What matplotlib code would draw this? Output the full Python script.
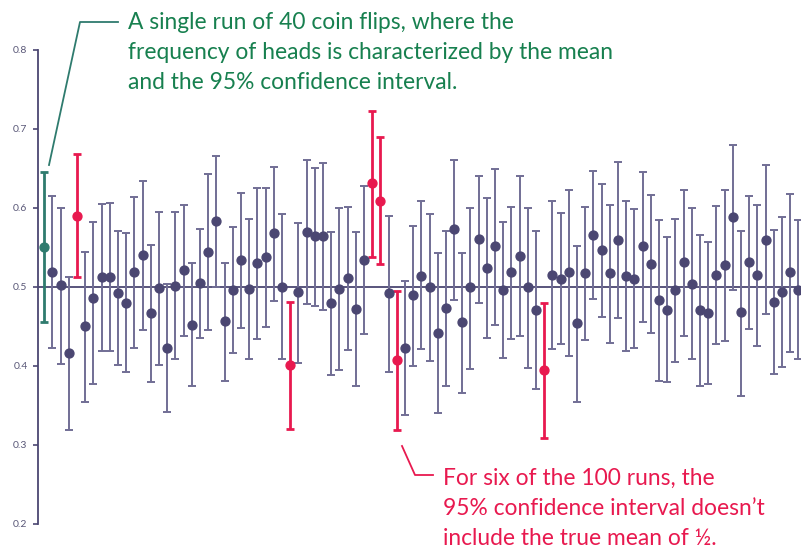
import numpy as np
import matplotlib as mpl
mpl.use('Agg')
import matplotlib.pyplot as plt
from matplotlib.lines import Line2D

# Mean and 95% CI bounds for each run of 40 coin flips
means = [0.550, 0.519, 0.502, 0.416, 0.590, 0.450, 0.486, 0.512, 0.512, 0.492,
         0.480, 0.519, 0.540, 0.467, 0.498, 0.423, 0.501, 0.521, 0.452, 0.505,
         0.544, 0.583, 0.456, 0.496, 0.534, 0.497, 0.530, 0.537, 0.568, 0.500,
         0.401, 0.493, 0.569, 0.564, 0.564, 0.480, 0.497, 0.511, 0.472, 0.534,
         0.631, 0.609, 0.492, 0.407, 0.423, 0.489, 0.514, 0.500, 0.442, 0.473,
         0.573, 0.455, 0.499, 0.560, 0.524, 0.551, 0.496, 0.518, 0.539, 0.500,
         0.470, 0.395, 0.515, 0.510, 0.518, 0.454, 0.517, 0.566, 0.546, 0.517,
         0.559, 0.514, 0.510, 0.551, 0.529, 0.483, 0.471, 0.496, 0.531, 0.503,
         0.471, 0.467, 0.515, 0.527, 0.588, 0.468, 0.531, 0.515, 0.559, 0.481,
         0.493, 0.518, 0.496]
upper = [0.645, 0.615, 0.600, 0.512, 0.668, 0.544, 0.582, 0.605, 0.606, 0.570,
         0.568, 0.613, 0.634, 0.553, 0.594, 0.504, 0.594, 0.604, 0.530, 0.573,
         0.643, 0.666, 0.530, 0.576, 0.619, 0.586, 0.625, 0.625, 0.652, 0.592,
         0.481, 0.581, 0.661, 0.650, 0.656, 0.569, 0.599, 0.601, 0.569, 0.627,
         0.723, 0.689, 0.589, 0.495, 0.507, 0.577, 0.608, 0.592, 0.543, 0.570,
         0.661, 0.543, 0.600, 0.640, 0.612, 0.649, 0.582, 0.601, 0.640, 0.600,
         0.571, 0.480, 0.609, 0.593, 0.622, 0.552, 0.601, 0.647, 0.630, 0.603,
         0.658, 0.609, 0.598, 0.645, 0.616, 0.584, 0.563, 0.586, 0.623, 0.599,
         0.566, 0.557, 0.602, 0.623, 0.679, 0.571, 0.615, 0.603, 0.654, 0.572,
         0.588, 0.617, 0.584]
lower = [0.455, 0.422, 0.402, 0.319, 0.512, 0.354, 0.377, 0.419, 0.419, 0.401,
         0.392, 0.422, 0.445, 0.380, 0.401, 0.341, 0.408, 0.437, 0.374, 0.435,
         0.445, 0.499, 0.381, 0.416, 0.448, 0.408, 0.434, 0.449, 0.482, 0.408,
         0.320, 0.404, 0.478, 0.476, 0.471, 0.388, 0.395, 0.420, 0.374, 0.440,
         0.538, 0.529, 0.392, 0.319, 0.337, 0.400, 0.421, 0.406, 0.340, 0.374,
         0.483, 0.366, 0.396, 0.479, 0.435, 0.451, 0.410, 0.434, 0.438, 0.397,
         0.370, 0.308, 0.421, 0.427, 0.412, 0.354, 0.432, 0.485, 0.462, 0.429,
         0.460, 0.418, 0.422, 0.455, 0.442, 0.381, 0.379, 0.405, 0.437, 0.408,
         0.374, 0.377, 0.427, 0.431, 0.496, 0.362, 0.446, 0.425, 0.465, 0.389,
         0.398, 0.417, 0.409]
highlight_run = 0
missed_runs = [4, 30, 40, 41, 43, 61]
true_mean = 0.5
y_ticks = [0.2, 0.3, 0.4, 0.5, 0.6, 0.7, 0.8]

PURPLE = '#4b4772'
BAR = '#716e95'
RED = '#e8194f'
TEAL = '#2f7b6e'
GREEN = '#17804f'

plt.rcParams['font.family'] = ['Lato', 'DejaVu Sans']

W, H = 801, 550
fig = plt.figure(figsize=(W / 100, H / 100), dpi=100)
ax = fig.add_axes([38 / W, 1 - 523.7 / H, 1 - 38 / W, 474 / H])

means = np.array(means)
upper = np.array(upper)
lower = np.array(lower)
x = np.arange(len(means))

ax.axhline(true_mean, color=PURPLE, lw=1.3, zorder=1)

for i in x:
    if i == highlight_run:
        c, bc, lw = TEAL, TEAL, 2.0
    elif i in missed_runs:
        c, bc, lw = RED, RED, 2.0
    else:
        c, bc, lw = PURPLE, BAR, 1.4
    ax.errorbar(i, means[i],
                yerr=[[means[i] - lower[i]], [upper[i] - means[i]]],
                fmt='o', color=c, mec=c, ecolor=bc, elinewidth=lw,
                capsize=3.2, capthick=lw, markersize=6.4, zorder=3)

ax.set_xlim((38 - 44.3) / 8.196, (W - 44.3) / 8.196)
ax.set_ylim(0.2, 0.8)
ax.set_yticks(y_ticks)
ax.set_yticklabels([f'{t:.1f}' for t in y_ticks])
ax.tick_params(axis='y', direction='out', length=3.5, width=1.2,
               color=PURPLE, labelcolor='#5a5878', labelsize=7.5, pad=4)
ax.set_xticks([])
for side in ['top', 'right', 'bottom']:
    ax.spines[side].set_visible(False)
ax.spines['left'].set_color(PURPLE)
ax.spines['left'].set_linewidth(1.3)
ax.patch.set_alpha(0)


def px(xp, yp):
    return xp / W, 1 - yp / H


# green leader and note
gx, gy = zip(px(49, 165), px(80, 22), px(118, 22))
fig.add_artist(Line2D(gx, gy, color=TEAL, lw=1.3))
green_lines = ['A single run of 40 coin flips, where the',
               'frequency of heads is characterized by the mean',
               'and the 95% confidence interval.']
for k, line in enumerate(green_lines):
    fig.text(*px(128, 29 + 30 * k), line, color=GREEN, fontsize=16.4,
             va='baseline', ha='left')

# red leader and note
rx, ry = zip(px(402, 446), px(415, 475), px(433, 475))
fig.add_artist(Line2D(rx, ry, color=RED, lw=1.3))
red_lines = ['For six of the 100 runs, the',
             '95% confidence interval doesn\u2019t',
             'include the true mean of \u00bd.']
for k, line in enumerate(red_lines):
    fig.text(*px(443, 485 + 30 * k), line, color=RED, fontsize=16.4,
             va='baseline', ha='left')

plt.savefig('out.png', dpi=100)
